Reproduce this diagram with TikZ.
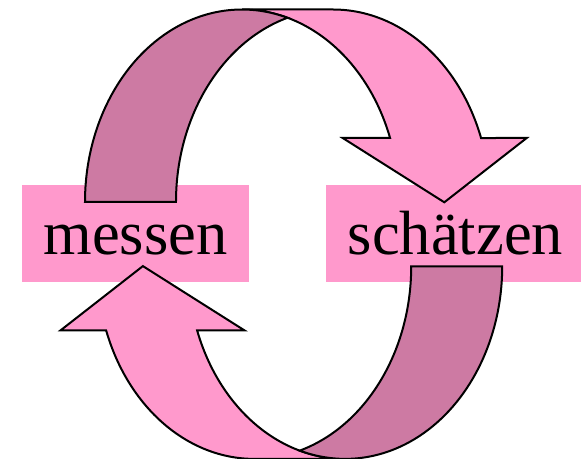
\documentclass[tikz,border=0pt]{standalone}
\usepackage{fontspec}
\setmainfont{Liberation Serif}
\definecolor{lightpink}{RGB}{255,153,204}
\definecolor{darkpink}{RGB}{205,122,163}
\newcommand\mycurvedarrow{%
  % light front part with arrowhead
  \filldraw[ribbon, fill=lightpink] (390.07,320)
    arc[start angle=19.418, end angle=90, x radius=157, y radius=192.5]
    -- (333,448.5)
    arc[start angle=90, end angle=19.418, x radius=157, y radius=192.5]
    -- (526.7,320) -- (444.3,255.7) -- (342.7,320) -- cycle;
  % dark back part
  \filldraw[ribbon, fill=darkpink] (85,256)
    arc[start angle=180, end angle=73.154, x radius=157, y radius=192.5]
    arc[start angle=106.846, end angle=180, x radius=157, y radius=192.5]
    -- cycle;
}
\begin{document}
\begin{tikzpicture}[x=1pt,y=1pt,
  box/.style={rectangle, fill=lightpink, draw=none, inner sep=0pt,
    minimum height=97pt, text height=60pt, text depth=17pt,
    font=\fontsize{62.5}{70}\selectfont},
  ribbon/.style={draw=black, line width=2pt, line join=miter}]
\useasboundingbox (0,0) rectangle (581,458);
\clip (0,0) rectangle (581,458);
\node[box, minimum width=227pt] (messen) at (135.5,224.5) {messen};
\node[box, minimum width=259pt] (schaetzen) at (455.5,224.5) {schätzen};
\mycurvedarrow
\begin{scope}[rotate around={180:(293.6,223.8)}]
\mycurvedarrow
\end{scope}
\end{tikzpicture}
\end{document}
